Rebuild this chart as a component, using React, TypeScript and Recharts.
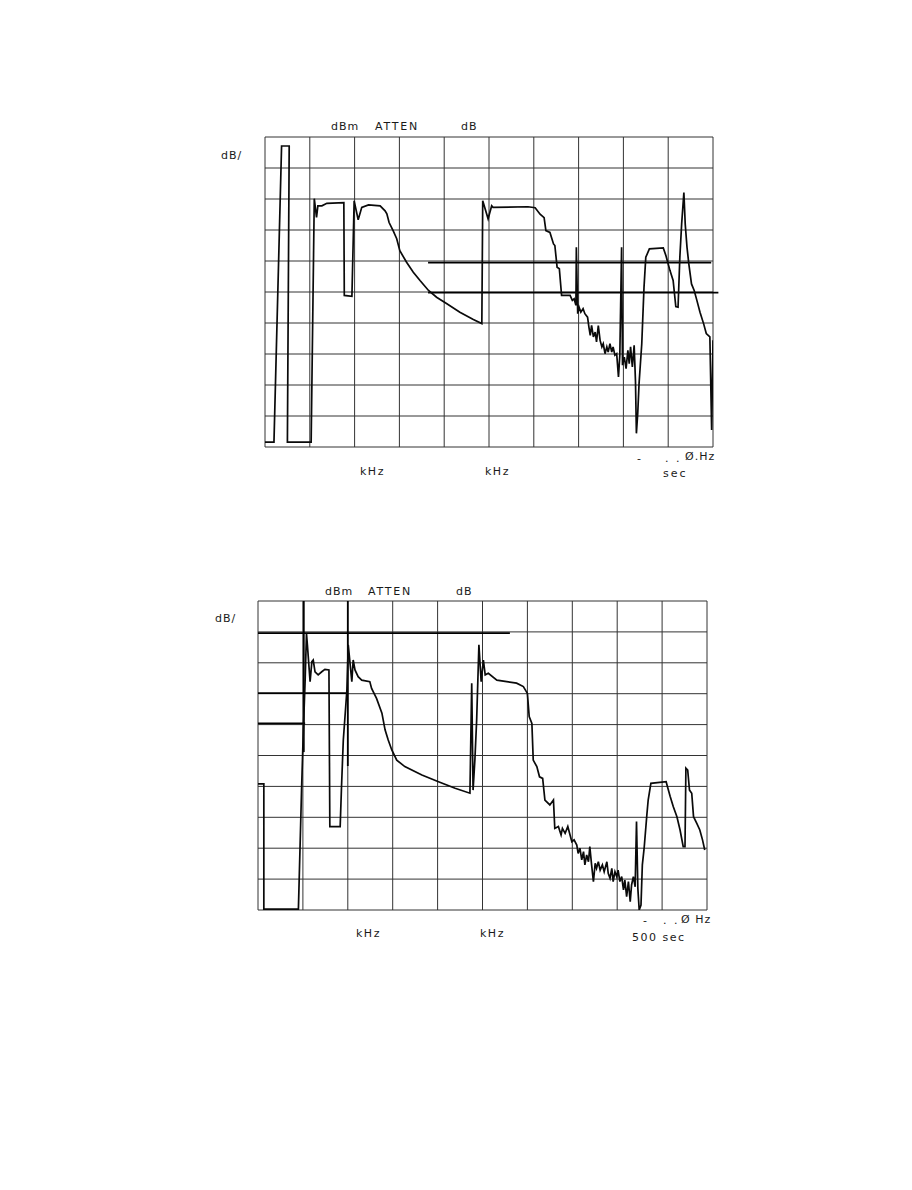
import React from 'react';
import { LineChart, Line, XAxis, YAxis, CartesianGrid, ReferenceLine } from 'recharts';

const gridTicks = [0, 10, 20, 30, 40, 50, 60, 70, 80, 90, 100];

// Upper display trace: [horizontal position (0-100 = 10 divisions), level (0-100 = 10 divisions)]
const trace1Points: [number, number][] = [
  [0, 1.6], [2.0, 1.6], [3.7, 97.1], [5.4, 97.1], [5.0, 1.6], [10.3, 1.6], [11.0, 80.1], [11.5, 74.1],
  [11.8, 77.8], [12.7, 77.8], [13.8, 78.6], [17.6, 78.8], [17.7, 48.9], [19.4, 48.6], [19.9, 79.4],
  [20.8, 73.3], [21.6, 77.3], [23.1, 78.1], [25.7, 77.8], [26.8, 76.2], [27.2, 75.2], [27.7, 72.4],
  [28.6, 69.8], [29.4, 67.2], [30.1, 63.3], [31.6, 59.6], [33.1, 56.4], [34.6, 53.7], [36.5, 50.5],
  [38.3, 48.3], [40.6, 46.2], [43.5, 43.5], [46.5, 41.1], [48.4, 39.8], [48.6, 79.4], [49.8, 73.6],
  [50.6, 77.8], [50.9, 77.3], [58.7, 77.5], [60.3, 77.2], [61.4, 75.1], [62.3, 74.0], [62.7, 69.8],
  [63.6, 69.2], [64.4, 65.5], [64.7, 65.0], [65.2, 58.0], [65.7, 57.5], [66.2, 48.9], [67.0, 48.9],
  [68.1, 48.9], [68.6, 47.3], [69.0, 47.8], [69.4, 45.7], [69.5, 64.4], [69.8, 43.0], [70.1, 45.1],
  [70.5, 43.5], [71.0, 44.6], [71.4, 43.0], [72.0, 41.9], [72.3, 38.7], [72.6, 36.0], [72.9, 39.2],
  [73.3, 35.5], [73.7, 37.1], [74.0, 33.9], [74.4, 39.2], [74.8, 34.4], [75.2, 32.3], [75.5, 33.3],
  [75.9, 30.1], [76.3, 32.3], [76.6, 30.6], [77.0, 33.3], [77.4, 30.6], [77.7, 32.3], [78.1, 29.6],
  [78.5, 30.1], [78.9, 22.6], [79.2, 29.6], [79.6, 64.4], [79.8, 26.4], [80.2, 29.0], [80.6, 25.3],
  [81.0, 31.2], [81.3, 26.9], [81.6, 32.3], [82.0, 25.8], [82.4, 32.8], [82.7, 21.0], [82.9, 4.4],
  [83.2, 10.9], [83.5, 20.6], [84.1, 33.3], [84.6, 51.5], [85.0, 61.2], [85.8, 63.9], [88.9, 64.2],
  [89.5, 61.7], [89.8, 60.1], [90.4, 56.9], [91.1, 53.7], [91.7, 45.3], [92.2, 45.1], [92.6, 61.2],
  [93.0, 71.9], [93.5, 82.1], [93.8, 71.9], [94.2, 64.4], [94.6, 59.1], [95.2, 52.6], [95.8, 50.5],
  [96.4, 47.3], [97.1, 43.5], [97.9, 39.8], [98.5, 36.6], [99.3, 35.5], [99.7, 5.5], [100, 34.4],
];

// Lower display trace
const trace2Points: [number, number][] = [
  [0, 40.8], [1.3, 40.8], [1.3, 0.3], [9.0, 0.3], [9.7, 38.8], [10.1, 58.3], [10.5, 74.4], [10.8, 89.5],
  [11.0, 85.8], [11.6, 73.9], [12.0, 80.4], [12.3, 80.9], [12.7, 77.1], [13.4, 76.1], [14.2, 77.1],
  [14.9, 77.9], [15.8, 77.7], [16.0, 27.0], [18.3, 27.0], [18.6, 39.9], [19.0, 55.0], [19.8, 71.2],
  [20.1, 85.8], [20.9, 73.9], [21.2, 80.9], [21.6, 77.7], [22.3, 75.5], [23.1, 74.4], [24.9, 73.9],
  [25.3, 71.7], [26.4, 68.5], [27.6, 63.7], [28.3, 58.3], [29.0, 55.0], [29.8, 51.8], [30.9, 48.5],
  [32.7, 46.4], [36.5, 43.7], [40.2, 41.5], [43.9, 39.4], [47.2, 37.8], [47.6, 73.4], [47.9, 38.8],
  [48.3, 48.5], [48.7, 61.5], [49.2, 85.8], [49.7, 73.9], [50.2, 80.9], [50.6, 76.1], [51.3, 76.6],
  [53.2, 74.4], [55.4, 73.9], [57.6, 73.4], [59.1, 72.3], [60.0, 70.1], [60.4, 62.6], [61.0, 60.4],
  [61.3, 48.5], [62.1, 46.4], [62.7, 43.1], [63.4, 42.6], [63.9, 35.6], [65.0, 34.0], [65.8, 35.6],
  [66.1, 26.4], [66.9, 27.0], [67.5, 24.3], [67.8, 26.4], [68.4, 24.8], [69.0, 27.0], [69.5, 24.3],
  [69.9, 22.1], [70.4, 22.7], [71.0, 21.0], [71.3, 18.3], [71.7, 20.0], [72.1, 16.2], [72.5, 18.9],
  [72.8, 14.6], [73.2, 17.8], [73.6, 15.6], [73.9, 20.5], [74.3, 14.6], [74.7, 9.2], [75.1, 15.1],
  [75.4, 13.5], [75.8, 15.6], [76.2, 12.9], [76.7, 14.6], [77.1, 12.4], [77.7, 15.6], [78.0, 11.9],
  [78.4, 10.3], [78.8, 13.5], [79.1, 9.2], [79.5, 12.4], [79.9, 10.8], [80.2, 12.9], [80.6, 9.2],
  [81.0, 10.8], [81.4, 6.5], [81.7, 9.7], [82.1, 4.3], [82.5, 9.2], [82.9, 2.7], [83.2, 8.1],
  [83.6, 10.8], [84.0, 7.5], [84.3, 28.6], [84.6, 7.0], [84.9, 0], [85.3, 1.6], [85.6, 14.6],
  [86.0, 20.0], [86.6, 30.7], [86.9, 35.6], [87.5, 41.0], [90.9, 41.5], [91.2, 39.9], [91.8, 36.7],
  [92.5, 33.4], [93.3, 30.2], [94.0, 25.9], [94.7, 20.5], [95.1, 20.5], [95.3, 45.9], [95.7, 45.3],
  [96.1, 38.8], [96.6, 37.8], [97.0, 30.2], [97.7, 28.1], [98.4, 25.9], [99.0, 22.7], [99.5, 19.4],
];

// Display lines drawn over each screen: [x1, y1, x2, y2]
const displayLines1 = [
  [36.4, 59.5, 99.6, 59.5],
  [36.4, 49.8, 101.2, 49.8],
];
const displayLines2 = [
  [0, 89.6, 56.1, 89.6],
  [0, 70.2, 20.0, 70.2],
  [0, 60.4, 10.5, 60.4],
  [10.2, 100, 10.2, 51.1],
  [20.0, 100, 20.0, 46.6],
];

const toRows = (pts: [number, number][]) => pts.map(([f, v]) => ({ f, v }));
const data1 = toRows(trace1Points);
const data2 = toRows(trace2Points);

const M = 6;

function Screen({ data, lines, left, top, w, h }: any) {
  return (
    <div style={{ position: 'absolute', left: left - M, top: top - M }}>
      <LineChart width={w + 2 * M} height={h + 2 * M} data={data} margin={{ top: M, right: M, bottom: M, left: M }}>
        <XAxis dataKey="f" type="number" domain={[0, 100]} ticks={gridTicks} hide allowDataOverflow />
        <YAxis type="number" domain={[0, 100]} ticks={gridTicks} hide allowDataOverflow />
        <CartesianGrid stroke="#333" strokeWidth={1} />
        {lines.map((s: number[], i: number) => (
          <ReferenceLine
            key={i}
            segment={[{ x: s[0], y: s[1] }, { x: s[2], y: s[3] }]}
            stroke="#000"
            strokeWidth={1.8}
            ifOverflow="visible"
          />
        ))}
        <Line
          dataKey="v"
          type="linear"
          stroke="#0a0a0a"
          strokeWidth={1.7}
          dot={false}
          isAnimationActive={false}
        />
      </LineChart>
    </div>
  );
}

function T({ x, y, children, ls = 1 }: any) {
  return (
    <div
      style={{
        position: 'absolute',
        left: x,
        top: y,
        fontFamily: '"DejaVu Sans", sans-serif',
        fontSize: 11,
        lineHeight: '13px',
        letterSpacing: ls,
        color: '#1a1a1a',
        whiteSpace: 'pre',
      }}
    >
      {children}
    </div>
  );
}

export default function App() {
  return (
    <div style={{ position: 'absolute', left: 0, top: 0, width: 912, height: 1190, background: '#fff' }}>
      <Screen data={data1} lines={displayLines1} left={265} top={137} w={448} h={310} />
      <T x={221} y={149}>dB/</T>
      <T x={331} y={120}>dBm</T>
      <T x={375} y={120} ls={1.8}>ATTEN</T>
      <T x={461} y={120}>dB</T>
      <T x={360} y={465} ls={1.5}>kHz</T>
      <T x={485} y={465} ls={1.5}>kHz</T>
      <T x={663} y={467} ls={2}>sec</T>
      <T x={637} y={452}>-</T>
      <T x={665} y={452} ls={2}>. .</T>
      <T x={685} y={450} ls={1}>Ø.Hz</T>

      <Screen data={data2} lines={displayLines2} left={258} top={601} w={449} h={309} />
      <T x={215} y={612}>dB/</T>
      <T x={325} y={585}>dBm</T>
      <T x={368} y={585} ls={1.8}>ATTEN</T>
      <T x={456} y={585}>dB</T>
      <T x={356} y={927} ls={1.5}>kHz</T>
      <T x={480} y={927} ls={1.5}>kHz</T>
      <T x={632} y={931} ls={1.5}>500 sec</T>
      <T x={643} y={914}>-</T>
      <T x={663} y={914} ls={2}>. .</T>
      <T x={681} y={913} ls={1}>Ø Hz</T>
    </div>
  );
}
